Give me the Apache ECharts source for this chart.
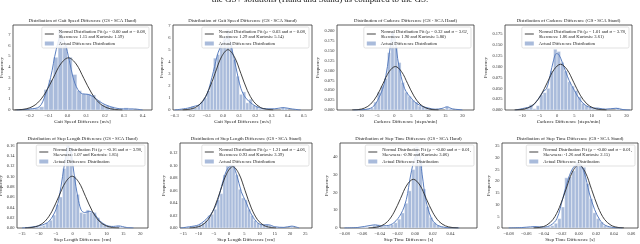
<!DOCTYPE html>
<html><head><meta charset="utf-8">
<script src="https://cdn.jsdelivr.net/npm/echarts@6/dist/echarts.min.js"></script>
<style>html,body{margin:0;padding:0;background:#fff}#c{width:640px;height:244px}</style>
</head><body><div id="c"></div>
<script>
// ---------- DATA ----------
const caption = 'the GS+ solutions (Hand and Stand) as compared to the GS.';
const histName = 'Actual Difference Distribution';

// Gait speed, hand
const gaitHandBinStart = -0.2, gaitHandBinWidth = 0.025;
const gaitHandDensity = [0.1,0.15,0.3,1.9,2.8,4.9,7.5,6.0,4.9,3.3,1.8,1.5,1.5,1.4,0.9,0.5,0.4,0.3,0.1,0.1,0.2,0.1];
const gaitHandKde = [[-0.27,0],[-0.2,0.1],[-0.15,0.3],[-0.12,1.3],[-0.09,3.0],[-0.06,5.6],[-0.035,6.8],[-0.015,6.3],[0.01,4.6],[0.03,3.0],[0.055,1.9],[0.08,1.5],[0.11,1.45],[0.14,1.2],[0.17,0.8],[0.2,0.5],[0.25,0.2],[0.3,0.1],[0.35,0.1],[0.4,0]];
const gaitHandNormal = [[-0.282,0.01],[-0.241,0.05],[-0.200,0.21],[-0.159,0.66],[-0.118,1.58],[-0.077,2.94],[-0.036,4.28],[0.005,4.85],[0.046,4.28],[0.087,2.94],[0.128,1.58],[0.169,0.66],[0.210,0.21],[0.251,0.05],[0.292,0.01]];
const gaitHandLabel = 'Normal Distribution Fit (μ = 0.00 and σ = 0.08,\nSkewness: 1.15 and Kurtosis: 1.59)';
const gaitHandXTicks = [-0.2,-0.1,0,0.1,0.2,0.3,0.4];
const gaitHandYTicks = [0,1,2,3,4,5,6,7];

// Gait speed, stand
const gaitStandBinStart = -0.22, gaitStandBinWidth = 0.02;
const gaitStandDensity = [0.15,0.3,0.2,0.4,0.7,1.0,1.6,2.3,4.3,4.6,5.4,6.1,6.7,5.6,4.2,2.8,1.3,1.5,0.6,0.9,0.4,0.3,0.1,0.1,0.05,0,0,0,0,0.2,0.15];
const gaitStandKde = [[-0.3,0],[-0.22,0.15],[-0.18,0.3],[-0.14,0.5],[-0.1,1.3],[-0.06,3.2],[-0.03,4.8],[0.0,5.6],[0.03,6.0],[0.05,5.3],[0.08,3.5],[0.11,1.8],[0.14,1.0],[0.18,0.5],[0.22,0.2],[0.27,0.1],[0.32,0.1],[0.37,0.2],[0.42,0.1],[0.48,0]];
const gaitStandNormal = [[-0.25,0.01],[-0.21,0.06],[-0.17,0.22],[-0.13,0.68],[-0.09,1.62],[-0.05,3.03],[-0.01,4.41],[0.03,5.0],[0.07,4.41],[0.11,3.03],[0.15,1.62],[0.19,0.68],[0.23,0.22],[0.27,0.06],[0.31,0.01]];
const gaitStandLabel = 'Normal Distribution Fit (μ = 0.03 and σ = 0.08,\nSkewness: 1.29 and Kurtosis: 5.14)';
const gaitStandXTicks = [-0.3,-0.2,-0.1,0,0.1,0.2,0.3,0.4,0.5];
const gaitStandYTicks = [0,1,2,3,4,5,6,7];

// Cadence, hand
const cadHandBinStart = -8, cadHandBinWidth = 1;
const cadHandDensity = [0.003,0.005,0.02,0.045,0.06,0.08,0.145,0.2,0.16,0.12,0.07,0.045,0.035,0.025,0.02,0.01,0.008,0.005,0.004,0,0,0,0,0.008,0.004];
const cadHandKde = [[-12,0],[-8,0.002],[-6,0.01],[-4,0.04],[-3,0.065],[-2,0.11],[-1,0.17],[-0.4,0.193],[0.2,0.18],[1,0.13],[2,0.085],[3,0.055],[4,0.04],[5,0.03],[6,0.02],[8,0.01],[10,0.005],[12,0.002],[14,0.004],[15.5,0.008],[17,0.003],[19,0.001],[20,0]];
const cadHandNormal = [[-12.35,0.0002],[-10.54,0.0012],[-8.73,0.0048],[-6.92,0.0149],[-5.11,0.0357],[-3.30,0.0667],[-1.49,0.0971],[0.32,0.110],[2.13,0.0971],[3.94,0.0667],[5.75,0.0357],[7.56,0.0149],[9.37,0.0048],[11.18,0.0012],[12.99,0.0002]];
const cadHandLabel = 'Normal Distribution Fit (μ = 0.32 and σ = 3.62,\nSkewness: 1.90 and Kurtosis: 5.80)';
const cadHandXTicks = [-10,-5,0,5,10,15,20];
const cadHandYTicks = [0,0.025,0.05,0.075,0.1,0.125,0.15,0.175,0.2];

// Cadence, stand
const cadStandBinStart = -9, cadStandBinWidth = 1;
const cadStandDensity = [0.005,0.012,0.003,0.01,0.035,0.04,0.05,0.09,0.14,0.135,0.11,0.09,0.065,0.055,0.045,0.03,0.015,0.01,0.005,0.003,0.005,0.003,0,0,0,0,0.005];
const cadStandKde = [[-12,0],[-9,0.005],[-7,0.01],[-5,0.03],[-4,0.042],[-3,0.05],[-2,0.08],[-1,0.115],[-0.2,0.13],[0.5,0.128],[1.5,0.11],[2.5,0.088],[3.5,0.068],[5,0.045],[6.5,0.025],[8,0.012],[10,0.005],[12,0.004],[14,0.002],[17,0.004],[19,0.001],[21,0]];
const cadStandNormal = [[-12.22,0.0002],[-10.33,0.0012],[-8.44,0.0046],[-6.55,0.0143],[-4.66,0.0343],[-2.77,0.064],[-0.88,0.0931],[1.01,0.1055],[2.90,0.0931],[4.79,0.064],[6.68,0.0343],[8.57,0.0143],[10.46,0.0046],[12.35,0.0012],[14.24,0.0002]];
const cadStandLabel = 'Normal Distribution Fit (μ = 1.01 and σ = 3.78,\nSkewness: 1.86 and Kurtosis: 3.61)';
const cadStandXTicks = [-10,-5,0,5,10,15,20];
const cadStandYTicks = [0,0.025,0.05,0.075,0.1,0.125,0.15,0.175];

// Step length, hand
const lenHandBinStart = -12, lenHandBinWidth = 1;
const lenHandDensity = [0.002,0.003,0.003,0.005,0.01,0.015,0.025,0.045,0.06,0.115,0.16,0.155,0.1,0.065,0.03,0.028,0.035,0.03,0.03,0.02,0.01,0.006,0.004,0.002,0.002,0.004,0.002];
const lenHandKde = [[-15,0],[-12,0.002],[-9,0.006],[-7,0.013],[-5,0.035],[-4,0.06],[-3,0.1],[-2,0.14],[-1.2,0.158],[-0.5,0.145],[0.5,0.1],[1.5,0.06],[2.5,0.035],[3.5,0.03],[5,0.032],[6.5,0.027],[8,0.014],[10,0.005],[12,0.003],[13.5,0.004],[16,0.001],[18,0]];
const lenHandNormal = [[-14.09,0.0002],[-12.1,0.0011],[-10.11,0.0044],[-8.12,0.0136],[-6.13,0.0325],[-4.14,0.0608],[-2.15,0.0884],[-0.16,0.1002],[1.83,0.0884],[3.82,0.0608],[5.81,0.0325],[7.80,0.0136],[9.79,0.0044],[11.78,0.0011],[13.77,0.0002]];
const lenHandLabel = 'Normal Distribution Fit (μ = -0.16 and σ = 3.98,\nSkewness: 1.07 and Kurtosis: 1.85)';
const lenHandXTicks = [-15,-10,-5,0,5,10,15,20];
const lenHandYTicks = [0,0.02,0.04,0.06,0.08,0.1,0.12,0.14,0.16];

// Step length, stand
const lenStandBinStart = -14, lenStandBinWidth = 1;
const lenStandDensity = [0.002,0.002,0.003,0.004,0.006,0.008,0.012,0.02,0.022,0.03,0.045,0.055,0.085,0.1,0.102,0.1,0.085,0.062,0.048,0.045,0.03,0.02,0.012,0.008,0.006,0.005,0.006,0.004,0.002,0.001,0,0,0,0,0.003];
const lenStandKde = [[-16,0],[-13,0.002],[-10,0.005],[-8,0.012],[-6,0.022],[-4,0.04],[-2,0.075],[-0.5,0.095],[1,0.1],[2.5,0.085],[4,0.058],[5.5,0.042],[7,0.025],[9,0.01],[11,0.005],[13,0.005],[15,0.002],[18,0.001],[20.5,0.003],[23,0]];
const lenStandNormal = [[-13.0,0.0002],[-10.97,0.0011],[-8.94,0.0043],[-6.91,0.0133],[-4.88,0.0319],[-2.85,0.0596],[-0.82,0.0867],[1.21,0.0983],[3.24,0.0867],[5.27,0.0596],[7.30,0.0319],[9.33,0.0133],[11.36,0.0043],[13.39,0.0011],[15.42,0.0002]];
const lenStandLabel = 'Normal Distribution Fit (μ = 1.21 and σ = 4.06,\nSkewness: 0.93 and Kurtosis: 3.39)';
const lenStandXTicks = [-15,-10,-5,0,5,10,15,20,25];
const lenStandYTicks = [0,0.02,0.04,0.06,0.08,0.1,0.12];

// Step time, hand
const timeHandBinStart = -0.064, timeHandBinWidth = 0.004;
const timeHandDensity = [0.3,0.5,0.3,0.5,1.5,2.0,1.0,0.8,1.2,2.0,3.0,5.0,8.5,14,21,33,46,38,22,12,6,3,1.5,0.8,0.4,0.2];
const timeHandKde = [[-0.08,0],[-0.065,0.3],[-0.05,1.5],[-0.045,1.8],[-0.04,1.2],[-0.032,1.3],[-0.024,3],[-0.016,8],[-0.01,16],[-0.005,30],[0.0,40],[0.004,42],[0.008,30],[0.012,16],[0.018,6],[0.024,2],[0.032,0.5],[0.04,0.1],[0.05,0]];
const timeHandNormal = [[-0.0528,0.06],[-0.0455,0.31],[-0.0383,1.21],[-0.031,3.72],[-0.0238,8.93],[-0.0165,16.68],[-0.0093,24.27],[-0.002,27.5],[0.0053,24.27],[0.0125,16.68],[0.0198,8.93],[0.027,3.72],[0.0343,1.21],[0.0415,0.31],[0.0488,0.06]];
const timeHandLabel = 'Normal Distribution Fit (μ = -0.00 and σ = 0.01,\nSkewness: -0.90 and Kurtosis: 3.06)';
const timeHandXTicks = [-0.08,-0.06,-0.04,-0.02,0,0.02,0.04];
const timeHandYTicks = [0,10,20,30,40];

// Step time, stand
const timeStandBinStart = -0.068, timeStandBinWidth = 0.004;
const timeStandDensity = [0.2,0.2,0.3,0.2,0.8,0.5,0.3,0.2,0.5,1.0,2.0,4.0,9.0,21.5,22.0,24.5,28.5,27.5,26.0,19.0,12.5,6.5,4.0,2.5,1.0,0.5,0.2];
const timeStandKde = [[-0.08,0],[-0.065,0.2],[-0.055,0.5],[-0.05,0.6],[-0.04,0.4],[-0.032,1.2],[-0.025,4],[-0.018,13],[-0.012,21],[-0.006,26],[0.0,27.5],[0.006,24],[0.012,15],[0.018,8],[0.024,3.5],[0.03,1.2],[0.04,0.2],[0.05,0]];
const timeStandNormal = [[-0.0515,0.06],[-0.0441,0.3],[-0.0368,1.19],[-0.0294,3.67],[-0.0221,8.8],[-0.0147,16.44],[-0.0074,23.92],[0,27.1],[0.0074,23.92],[0.0147,16.44],[0.0221,8.8],[0.0294,3.67],[0.0368,1.19],[0.0441,0.3],[0.0515,0.06]];
const timeStandLabel = 'Normal Distribution Fit (μ = -0.00 and σ = 0.01,\nSkewness: -1.26 and Kurtosis: 2.15)';
const timeStandXTicks = [-0.08,-0.06,-0.04,-0.02,0,0.02,0.04,0.06];
const timeStandYTicks = [0,5,10,15,20,25,30,35];

// ---------- BUILD ----------
function hist(start, width, dens) {
  return dens.map((h, i) => [start + i * width, start + (i + 1) * width, h]).filter(d => d[2] > 0);
}
const FF = "'Liberation Serif','DejaVu Serif',serif";
const barFill = '#a9bbdb', kdeColor = '#5a7ebf', normColor = '#2b2b2b';
const lineIcon = 'path://M0,0L20,0L20,2L0,2Z';

const panels = [
  {t:'Distribution of Gait Speed Difference (GS - SCA Hand)', xn:'Gait Speed Difference [m/s]', h:hist(gaitHandBinStart,gaitHandBinWidth,gaitHandDensity), k:gaitHandKde, n:gaitHandNormal, l:gaitHandLabel, x0:-0.29, x1:0.45, y1:7.9, xt:gaitHandXTicks, yt:gaitHandYTicks, xd:1, yd:0, box:[13,25,139,85], yg:6},
  {t:'Distribution of Gait Speed Difference (GS - SCA Stand)', xn:'Gait Speed Difference [m/s]', h:hist(gaitStandBinStart,gaitStandBinWidth,gaitStandDensity), k:gaitStandKde, n:gaitStandNormal, l:gaitStandLabel, x0:-0.31, x1:0.55, y1:7.05, xt:gaitStandXTicks, yt:gaitStandYTicks, xd:1, yd:0, box:[173,25,139,85], yg:6},
  {t:'Distribution of Cadence Difference (GS - SCA Hand)', xn:'Cadence Difference [steps/min]', h:hist(cadHandBinStart,cadHandBinWidth,cadHandDensity), k:cadHandKde, n:cadHandNormal, l:cadHandLabel, x0:-16.8, x1:23.4, y1:0.215, xt:cadHandXTicks, yt:cadHandYTicks, xd:0, yd:3, box:[337,25,137,85], yg:13},
  {t:'Distribution of Cadence Difference (GS - SCA Stand)', xn:'Cadence Difference [steps/min]', h:hist(cadStandBinStart,cadStandBinWidth,cadStandDensity), k:cadStandKde, n:cadStandNormal, l:cadStandLabel, x0:-15, x1:21.6, y1:0.196, xt:cadStandXTicks, yt:cadStandYTicks, xd:0, yd:3, box:[505,25,127,85], yg:13},
  {t:'Distribution of Step Length Difference (GS - SCA Hand)', xn:'Step Length Difference [cm]', h:hist(lenHandBinStart,lenHandBinWidth,lenHandDensity), k:lenHandKde, n:lenHandNormal, l:lenHandLabel, x0:-16.5, x1:22.3, y1:0.1645, xt:lenHandXTicks, yt:lenHandYTicks, xd:0, yd:2, box:[17,143,131,85], yg:11},
  {t:'Distribution of Step Length Difference (GS - SCA Stand)', xn:'Step Length Difference [cm]', h:hist(lenStandBinStart,lenStandBinWidth,lenStandDensity), k:lenStandKde, n:lenStandNormal, l:lenStandLabel, x0:-16.1, x1:27.2, y1:0.136, xt:lenStandXTicks, yt:lenStandYTicks, xd:0, yd:2, box:[180,143,132,85], yg:11},
  {t:'Distribution of Step Time Difference (GS - SCA Hand)', xn:'Step Time Difference [s]', h:hist(timeHandBinStart,timeHandBinWidth,timeHandDensity), k:timeHandKde, n:timeHandNormal, l:timeHandLabel, x0:-0.085, x1:0.07, y1:48, xt:timeHandXTicks, yt:timeHandYTicks, xd:2, yd:0, box:[340,143,137,85], yg:8},
  {t:'Distribution of Step Time Difference (GS - SCA Stand)', xn:'Step Time Difference [s]', h:hist(timeStandBinStart,timeStandBinWidth,timeStandDensity), k:timeStandKde, n:timeStandNormal, l:timeStandLabel, x0:-0.0876, x1:0.0676, y1:36.4, xt:timeStandXTicks, yt:timeStandYTicks, xd:2, yd:0, box:[502,143,136,85], yg:8}
];

const fmt = (v, d) => v.toFixed(d).replace('-', '\u2212');
const lbl = {fontSize:4.5, color:'#333', fontFamily:FF};

const option = {
  animation: false,
  backgroundColor: '#fff',
  title: [{text: caption, left: 320, top: -4.5, textAlign: 'center', padding: 0,
           textStyle: {fontSize: 9, fontWeight: 'normal', color: '#111', fontFamily: FF}}]
    .concat(panels.map(p => ({text: p.t, left: p.box[0] + p.box[2] / 2, top: p.box[1] - 6.5, textAlign: 'center', padding: 0,
      textStyle: {fontSize: 4.8, fontWeight: 'normal', color: '#222', fontFamily: FF}}))),
  grid: panels.map(p => ({left: p.box[0], top: p.box[1], width: p.box[2], height: p.box[3], show: true,
    borderColor: '#333', borderWidth: 0.8, backgroundColor: 'transparent', containLabel: false, outerBoundsMode: 'none'})),
  xAxis: panels.map((p, i) => ({type: 'value', gridIndex: i, min: p.x0, max: p.x1,
    name: p.xn, nameLocation: 'middle', nameGap: 9, nameTextStyle: {fontSize: 5, color: '#222', fontFamily: FF},
    axisLine: {show: false}, axisTick: {show: false}, splitLine: {show: false},
    axisLabel: Object.assign({customValues: p.xt, margin: 3, formatter: v => fmt(v, p.xd)}, lbl)})),
  yAxis: panels.map((p, i) => ({type: 'value', gridIndex: i, min: 0, max: p.y1,
    name: 'Frequency', nameLocation: 'middle', nameGap: p.yg, nameRotate: 90, nameTextStyle: {fontSize: 5, color: '#222', fontFamily: FF},
    axisLine: {show: false}, axisTick: {show: false}, splitLine: {show: false},
    axisLabel: Object.assign({customValues: p.yt, margin: 2.5, formatter: v => fmt(v, p.yd)}, lbl)})),
  legend: panels.map(p => ({orient: 'vertical', top: p.box[1] + 2, right: 640 - (p.box[0] + p.box[2]) + 3,
    data: [{name: p.l, icon: lineIcon, itemStyle: {color: normColor}}, {name: histName, icon: 'rect'}],
    itemWidth: 9, itemHeight: 4, itemGap: 2, padding: [2, 3, 2, 3], symbolKeepAspect: true,
    backgroundColor: 'rgba(255,255,255,0.85)', borderColor: '#cfcfcf', borderWidth: 0.6, borderRadius: 1.5,
    textStyle: {fontSize: 4.6, lineHeight: 5, color: '#222', fontFamily: FF}, selectedMode: false})),
  series: []
};

panels.forEach((p, i) => {
  option.series.push({
    type: 'custom', name: histName, xAxisIndex: i, yAxisIndex: i, clip: true, z: 1,
    itemStyle: {color: barFill},
    encode: {x: [0, 1], y: 2},
    data: p.h,
    renderItem: function (params, api) {
      const a = api.coord([api.value(0), api.value(2)]);
      const b = api.coord([api.value(1), 0]);
      return {type: 'rect', shape: {x: a[0], y: a[1], width: b[0] - a[0], height: b[1] - a[1]},
              style: {fill: api.visual('color'), stroke: '#ffffff', lineWidth: 0.4}};
    }
  });
  option.series.push({
    type: 'line', name: 'kde' + i, xAxisIndex: i, yAxisIndex: i, data: p.k, smooth: 0.35,
    symbol: 'none', showSymbol: false, clip: true, z: 2,
    lineStyle: {color: kdeColor, width: 1}, itemStyle: {color: kdeColor}
  });
  option.series.push({
    type: 'line', name: p.l, xAxisIndex: i, yAxisIndex: i, data: p.n, smooth: 0.35,
    symbol: 'none', showSymbol: false, clip: true, z: 3,
    lineStyle: {color: normColor, width: 0.9}, itemStyle: {color: normColor}
  });
});

const chart = echarts.init(document.getElementById('c'), null, {renderer: 'canvas'});
chart.setOption(option);
</script></body></html>
